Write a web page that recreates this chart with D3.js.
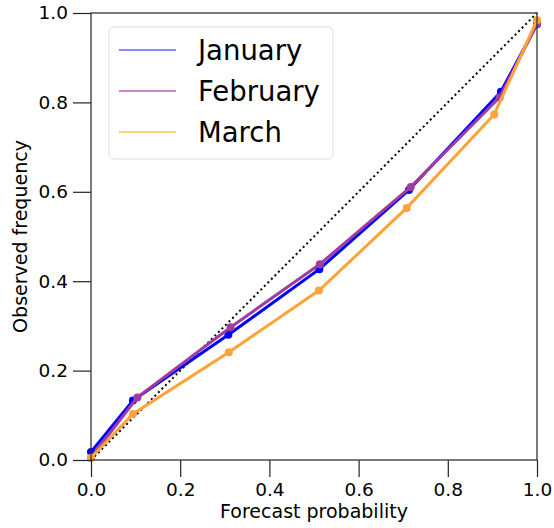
<!DOCTYPE html>
<html>
<head>
<meta charset="utf-8">
<script src="https://cdn.jsdelivr.net/npm/d3@7"></script>
<style>
  body { margin: 0; background: #fff; }
  svg text { font-family: "DejaVu Sans", sans-serif; fill: #000; }
</style>
</head>
<body>
<div id="chart"></div>
<script>
// Reliability diagram - forecast probability vs observed frequency

let svgWidth = 554;
let svgHeight = 528;

let margin = { top: 13, right: 17, bottom: 68, left: 91 };

let width = svgWidth - margin.left - margin.right;
let height = svgHeight - margin.top - margin.bottom;

// data
let months = ["January", "February", "March"];
let janX = [0.0, 0.094, 0.308, 0.512, 0.713, 0.919, 1.0];
let janY = [0.018, 0.133, 0.280, 0.427, 0.604, 0.824, 0.975];
let febX = [0.0, 0.104, 0.313, 0.513, 0.717, 0.916, 1.0];
let febY = [0.005, 0.140, 0.297, 0.438, 0.611, 0.811, 0.975];
let marX = [0.0, 0.094, 0.309, 0.511, 0.708, 0.904, 1.0];
let marY = [0.005, 0.103, 0.241, 0.379, 0.564, 0.773, 0.984];
let tickValues = [0.0, 0.2, 0.4, 0.6, 0.8, 1.0];

let lineColors = ["#0000ff", "#a03ca0", "#ffa238"];
let legendColors = ["#8c8cff", "#b463b4", "#ffd27e"];

let series = months.map((name, i) => {
    let xs = [janX, febX, marX][i];
    let ys = [janY, febY, marY][i];
    return { name: name, color: lineColors[i], points: xs.map((x, j) => ({ x: x, y: ys[j] })) };
});

let svg = d3.select("#chart")
    .append("svg")
    .attr("width", svgWidth)
    .attr("height", svgHeight);

let chartGroup = svg.append("g")
    .attr("transform", `translate(${margin.left},${margin.top})`);

let xScale = d3.scaleLinear().domain([0, 1]).range([0, width]);
let yScale = d3.scaleLinear().domain([0, 1]).range([height, 0]);

// perfect reliability diagonal
chartGroup.append("line")
    .attr("x1", xScale(0)).attr("y1", yScale(0))
    .attr("x2", xScale(1)).attr("y2", yScale(1))
    .attr("stroke", "#000")
    .attr("stroke-width", 2)
    .attr("stroke-dasharray", "2,3");

let line = d3.line()
    .x(d => xScale(d.x))
    .y(d => yScale(d.y));

series.forEach(function(s) {
    let g = chartGroup.append("g");
    g.append("path")
        .datum(s.points)
        .attr("fill", "none")
        .attr("stroke", s.color)
        .attr("stroke-width", 3)
        .attr("d", line);
    g.selectAll("circle")
        .data(s.points)
        .enter()
        .append("circle")
        .attr("cx", d => xScale(d.x))
        .attr("cy", d => yScale(d.y))
        .attr("r", 4)
        .attr("fill", s.color);
});

// axes
let bottomAxis = d3.axisBottom(xScale)
    .tickValues(tickValues)
    .tickFormat(d3.format(".1f"))
    .tickSize(17)
    .tickPadding(6);
let leftAxis = d3.axisLeft(yScale)
    .tickValues(tickValues)
    .tickFormat(d3.format(".1f"))
    .tickSize(18)
    .tickPadding(5);

let xAxis = chartGroup.append("g")
    .attr("transform", `translate(0, ${height})`)
    .call(bottomAxis);
let yAxis = chartGroup.append("g")
    .call(leftAxis);

[xAxis, yAxis].forEach(function(ax) {
    ax.select(".domain").remove();
    ax.selectAll("line").attr("stroke", "#222").attr("stroke-width", 1.2);
    ax.selectAll("text").attr("font-size", "18.5px").attr("fill", "#000");
});

// frame
chartGroup.append("rect")
    .attr("x", 0).attr("y", 0)
    .attr("width", width).attr("height", height)
    .attr("fill", "none")
    .attr("stroke", "#333")
    .attr("stroke-width", 1.3);

// axis labels
chartGroup.append("text")
    .attr("x", width / 2)
    .attr("y", height + 58)
    .attr("text-anchor", "middle")
    .attr("font-size", "19px")
    .text("Forecast probability");

chartGroup.append("text")
    .attr("transform", "rotate(-90)")
    .attr("x", -height / 2)
    .attr("y", -margin.left + 27)
    .attr("text-anchor", "middle")
    .attr("font-size", "19px")
    .text("Observed frequency");

// legend
let legend = chartGroup.append("g")
    .attr("transform", "translate(18, 14)");

legend.append("rect")
    .attr("width", 224)
    .attr("height", 132)
    .attr("rx", 5)
    .attr("fill", "#fff")
    .attr("fill-opacity", 0.8)
    .attr("stroke", "#ddd")
    .attr("stroke-width", 1);

months.forEach(function(name, i) {
    let yPos = 23 + i * 41;
    legend.append("line")
        .attr("x1", 10).attr("x2", 67)
        .attr("y1", yPos).attr("y2", yPos)
        .attr("stroke", legendColors[i])
        .attr("stroke-width", i === 1 ? 1.5 : 2.2);
    legend.append("text")
        .attr("x", 89)
        .attr("y", yPos + 10)
        .attr("font-size", "27.5px")
        .text(name);
});
</script>
</body>
</html>
